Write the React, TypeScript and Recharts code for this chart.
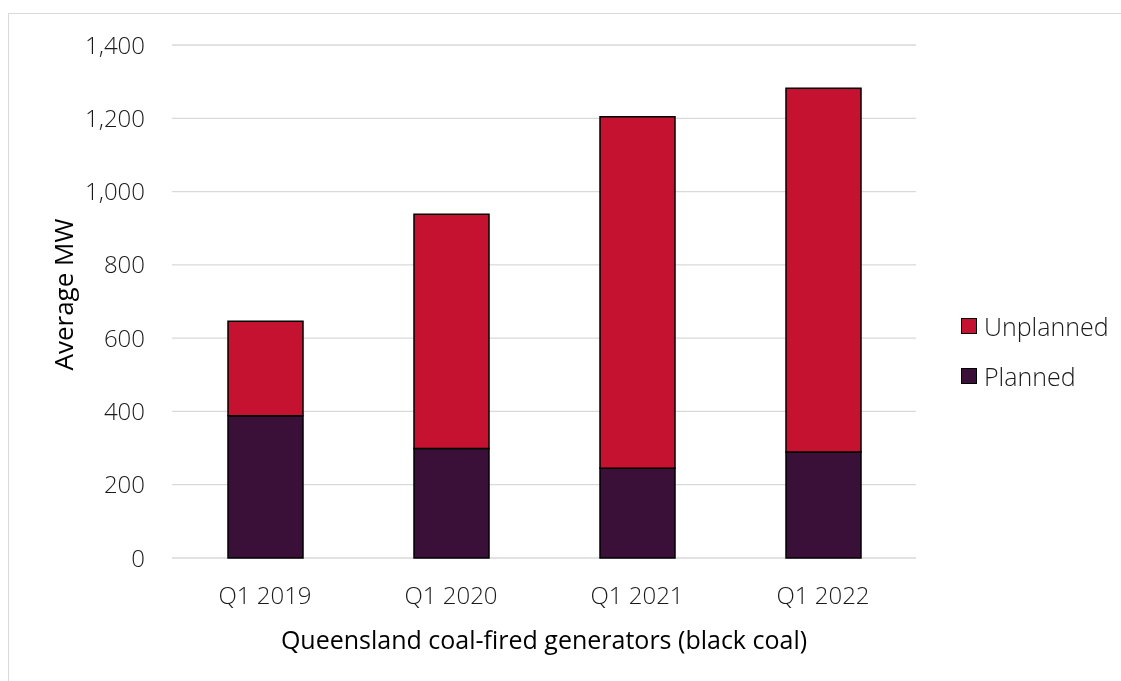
import { BarChart, Bar, XAxis, YAxis, CartesianGrid, Legend, Label } from 'recharts';

const categories = ['Q1 2019', 'Q1 2020', 'Q1 2021', 'Q1 2022'];
const planned = [388, 299, 245, 289];
const unplanned = [258, 639, 959, 993];
const yTicks = [0, 200, 400, 600, 800, 1000, 1200, 1400];

const data = categories.map((quarter, i) => ({
  quarter,
  planned: planned[i],
  unplanned: unplanned[i],
}));

const FONT = '"Open Sans", "Noto Sans", sans-serif';
const RED = '#c41230';
const PURPLE = '#3a1039';
const TEXT = '#1a1a1a';

function formatTick(v: number) {
  return v.toLocaleString('en-US');
}

function YTitle({ viewBox }: any) {
  const x = viewBox.x + 64;
  const y = viewBox.y + viewBox.height / 2 - 7;
  return (
    <text
      x={x}
      y={y}
      transform={`rotate(-90, ${x}, ${y})`}
      textAnchor="middle"
      fontSize={26}
      fill="#000"
      fontFamily={FONT}
    >
      Average MW
    </text>
  );
}

function XTitle({ viewBox }: any) {
  return (
    <text
      x={viewBox.x + viewBox.width / 2}
      y={viewBox.y + 91}
      textAnchor="middle"
      fontSize={25}
      fill="#000"
      fontFamily={FONT}
    >
      Queensland coal-fired generators (black coal)
    </text>
  );
}

// Unplanned sits on top of the stack, so list it first
function LegendContent({ payload }: any) {
  const items = [...(payload || [])].reverse();
  return (
    <div style={{ fontFamily: FONT }}>
      {items.map((item: any) => (
        <div key={item.value} style={{ display: 'flex', alignItems: 'center', height: 50 }}>
          <span
            style={{
              width: 14,
              height: 14,
              background: item.color,
              border: '1.5px solid #000',
              marginRight: 7,
            }}
          />
          <span style={{ fontSize: 25, fontWeight: 300, color: TEXT }}>{item.value}</span>
        </div>
      ))}
    </div>
  );
}

export default function App() {
  return (
    <div
      style={{
        position: 'fixed',
        left: 8,
        top: 13,
        right: 0,
        bottom: 0,
        borderTop: '1px solid #d9d9d9',
        borderLeft: '1px solid #d9d9d9',
        fontFamily: FONT,
      }}
    >
      <BarChart
        width={1112}
        height={667}
        data={data}
        margin={{ top: 31, right: 205, bottom: 30, left: 0 }}
      >
        <CartesianGrid horizontal vertical={false} stroke="#d9d9d9" strokeWidth={1.3} />
        <XAxis
          dataKey="quarter"
          height={93}
          axisLine={false}
          tickLine={false}
          tickSize={0}
          tickMargin={29}
          tick={{ fontSize: 24, fill: TEXT, fontWeight: 300, fontFamily: FONT }}
        >
          <Label content={<XTitle />} />
        </XAxis>
        <YAxis
          width={163}
          domain={[0, 1400]}
          ticks={yTicks}
          tickFormatter={formatTick}
          axisLine={false}
          tickLine={false}
          tickSize={0}
          tickMargin={27}
          tick={{ fontSize: 24, fill: TEXT, fontWeight: 300, fontFamily: FONT }}
        >
          <Label content={<YTitle />} />
        </YAxis>
        <Legend
          layout="vertical"
          align="center"
          verticalAlign="middle"
          content={<LegendContent />}
          wrapperStyle={{ left: 952, top: 287, width: 155 }}
        />
        <Bar
          dataKey="planned"
          name="Planned"
          stackId="a"
          fill={PURPLE}
          stroke="#000"
          strokeWidth={1.5}
          barSize={75}
          isAnimationActive={false}
        />
        <Bar
          dataKey="unplanned"
          name="Unplanned"
          stackId="a"
          fill={RED}
          stroke="#000"
          strokeWidth={1.5}
          barSize={75}
          isAnimationActive={false}
        />
      </BarChart>
    </div>
  );
}
